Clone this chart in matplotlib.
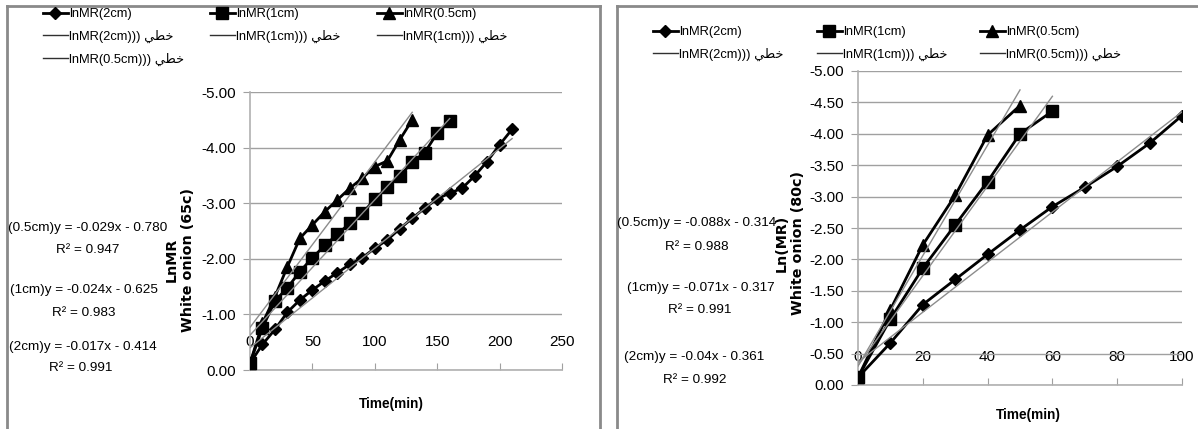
import numpy as np
import matplotlib
matplotlib.use("Agg")
import matplotlib.pyplot as plt
from matplotlib.lines import Line2D

plt.rcParams['font.family'] = ['Liberation Sans', 'DejaVu Sans']

# ---- data (values are ln(MR), plotted on a reversed axis)
t65_2cm = list(range(0, 220, 10))
ln65_2cm = [-0.12, -0.46, -0.73, -1.04, -1.26, -1.44, -1.60, -1.75, -1.90, -2.02, -2.19,
            -2.34, -2.54, -2.73, -2.91, -3.08, -3.18, -3.27, -3.49, -3.75, -4.05, -4.33]
t65_1cm = list(range(0, 170, 10))
ln65_1cm = [-0.12, -0.76, -1.24, -1.48, -1.77, -2.02, -2.24, -2.44, -2.64, -2.82, -3.07,
            -3.29, -3.49, -3.74, -3.91, -4.26, -4.47]
t65_05cm = list(range(0, 140, 10))
ln65_05cm = [-0.12, -0.84, -1.32, -1.86, -2.37, -2.61, -2.85, -3.06, -3.27, -3.45, -3.66,
             -3.76, -4.14, -4.50]

t80_2cm = list(range(0, 110, 10))
ln80_2cm = [-0.12, -0.67, -1.28, -1.68, -2.08, -2.47, -2.84, -3.15, -3.48, -3.85, -4.29]
t80_1cm = list(range(0, 70, 10))
ln80_1cm = [-0.12, -1.05, -1.86, -2.55, -3.24, -4.00, -4.36]
t80_05cm = list(range(0, 60, 10))
ln80_05cm = [-0.12, -1.20, -2.23, -3.02, -3.98, -4.45]

eq65 = ["(0.5cm)y = -0.029x - 0.780", "R² = 0.947",
        "(1cm)y = -0.024x - 0.625", "R² = 0.983",
        "(2cm)y = -0.017x - 0.414", "R² = 0.991"]
eq80 = ["(0.5cm)y = -0.088x - 0.314", "R² = 0.988",
        "(1cm)y = -0.071x - 0.317", "R² = 0.991",
        "(2cm)y = -0.04x - 0.361", "R² = 0.992"]

ARAB = "\ufef2\ufec4\ufea7"   # خطي in visual order

W, H = 1198, 429
fig = plt.figure(figsize=(W / 100, H / 100), dpi=100)


def fx(px):
    return px / W


def fy(py):
    return 1 - py / H


GRAY = '#8c8c8c'


def panel_border(x0, x1, y0):
    kw = dict(color='#8a8a8a', lw=2.0, transform=fig.transFigure)
    fig.add_artist(Line2D([fx(x0), fx(x0)], [fy(y0), 0], **kw))
    fig.add_artist(Line2D([fx(x0), fx(x1)], [fy(y0), fy(y0)], **kw))
    if x1 < W:
        fig.add_artist(Line2D([fx(x1), fx(x1)], [fy(y0), 0], **kw))


panel_border(7, 600, 6)
panel_border(617, W + 5, 6)


def make_axes(box, xmax, xstep, ystep):
    l, t, r, b = box
    ax = fig.add_axes([fx(l), fy(b), fx(r - l), fy(t) - fy(b)])
    ax.set_xlim(0, xmax)
    ax.set_ylim(0, -5)
    ax.set_xticks(np.arange(0, xmax + 1, xstep))
    ax.set_yticks(np.arange(0, -5.001, -ystep))
    ax.yaxis.set_major_formatter(matplotlib.ticker.FormatStrFormatter('%.2f'))
    ax.grid(axis='y', color='#a0a0a0', lw=1.0)
    ax.set_axisbelow(True)
    for s in ['top', 'right']:
        ax.spines[s].set_visible(False)
    for s in ['left', 'bottom']:
        ax.spines[s].set_color('#b0b0b0')
        ax.spines[s].set_linewidth(1.2)
    ax.tick_params(axis='x', direction='in', length=5, color='#a0a0a0',
                   pad=-25, labelsize=11)
    ax.tick_params(axis='y', direction='out', length=5, color='#a0a0a0',
                   pad=5, labelsize=11)
    return ax


def draw_series(ax, t, v, marker, ms):
    ax.plot(t, v, color='black', lw=2.0, marker=marker, ms=ms, zorder=3)
    k, c = np.polyfit(t, v, 1)
    tt = np.array([t[0], t[-1]])
    ax.plot(tt, k * tt + c, color=GRAY, lw=1.0, zorder=4)


ax1 = make_axes((250, 92, 562, 370), 250, 50, 1.0)
draw_series(ax1, t65_2cm, ln65_2cm, 'D', 6)
draw_series(ax1, t65_1cm, ln65_1cm, 's', 9)
draw_series(ax1, t65_05cm, ln65_05cm, '^', 8)

ax2 = make_axes((858, 71, 1182, 385), 100, 20, 0.5)
draw_series(ax2, t80_2cm, ln80_2cm, 'D', 6)
draw_series(ax2, t80_1cm, ln80_1cm, 's', 9)
draw_series(ax2, t80_05cm, ln80_05cm, '^', 8)

# trendline equations
pos65 = [(88, 228), (88, 250), (84, 290), (84, 313), (83, 347), (81, 368)]
pos80 = [(697, 223), (697, 247), (701, 288), (700, 310), (694, 357), (695, 380)]
for s, (x, y) in zip(eq65, pos65):
    fig.text(fx(x), fy(y), s, ha='center', va='center', fontsize=9.7)
for s, (x, y) in zip(eq80, pos80):
    fig.text(fx(x), fy(y), s, ha='center', va='center', fontsize=9.7)

# axis titles
fig.text(fx(180), fy(260), "LnMR\nWhite onion (65c)", rotation=90, ha='center', va='center',
         fontsize=10.3, fontweight='bold', family=['DejaVu Sans'], linespacing=1.25)
fig.text(fx(790), fy(243), "Ln(MR)\nWhite onion (80c)", rotation=90, ha='center', va='center',
         fontsize=10.3, fontweight='bold', family=['DejaVu Sans'], linespacing=1.25)
fig.text(fx(391), fy(404), "Time(min)", ha='center', va='center', fontsize=9.8, fontweight='bold')
fig.text(fx(1028), fy(415), "Time(min)", ha='center', va='center', fontsize=9.8, fontweight='bold')


# legends
def mk(marker, ms):
    return Line2D([], [], color='black', lw=2.0, marker=marker, ms=ms)


def fit_h():
    return Line2D([], [], color='#303030', lw=1.0)


def add_col(handles, labels, x, y):
    fig.legend(handles, labels, loc='upper left', bbox_to_anchor=(fx(x), fy(y)),
               frameon=False, fontsize=9.3, handlelength=1.9, handletextpad=0.15,
               borderpad=0, borderaxespad=0, labelspacing=0.75)


add_col([mk('D', 6), fit_h(), fit_h()],
        ["lnMR(2cm)", "lnMR(2cm))) " + ARAB, "lnMR(0.5cm))) " + ARAB], 43, 8)
add_col([mk('s', 9), fit_h()], ["lnMR(1cm)", "lnMR(1cm))) " + ARAB], 210, 8)
add_col([mk('^', 8), fit_h()], ["lnMR(0.5cm)", "lnMR(1cm))) " + ARAB], 377, 8)

add_col([mk('D', 6), fit_h()], ["lnMR(2cm)", "lnMR(2cm))) " + ARAB], 653, 26)
add_col([mk('s', 9), fit_h()], ["lnMR(1cm)", "lnMR(1cm))) " + ARAB], 817, 26)
add_col([mk('^', 8), fit_h()], ["lnMR(0.5cm)", "lnMR(0.5cm))) " + ARAB], 980, 26)

fig.savefig("out.png", dpi=100)
